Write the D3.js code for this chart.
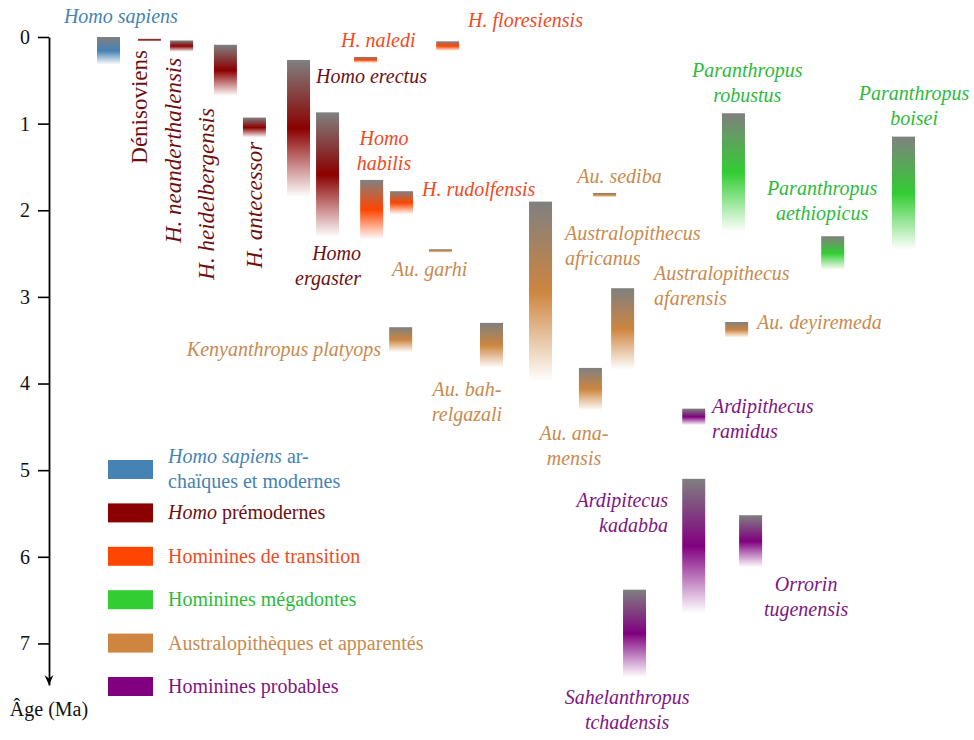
<!DOCTYPE html>
<html><head><meta charset="utf-8">
<script src="https://cdn.jsdelivr.net/npm/d3@7"></script>
<style>body{margin:0;background:#fff} svg{display:block}</style>
</head><body>
<svg id="c" width="974" height="740"></svg>
<script>
// ---- data ----
const groupNames  = ["sapiens","premodern","transition","megadont","australo","probable"];
const groupColors = ["#4682B4","#8B0000","#FF4500","#32CD32","#CD853F","#800080"];
const groupTextColors = ["#4682B4","#6E0F0F","#F04A1E","#2DBA3A","#C98A4E","#7E1582"];
const ageTicks = [0,1,2,3,4,5,6,7];

const species = ["Homo sapiens","Dénisoviens","H. neanderthalensis","H. heidelbergensis","H. antecessor",
  "Homo erectus","Homo ergaster","H. naledi","H. floresiensis","Homo habilis","H. rudolfensis",
  "Au. garhi","Au. sediba","Au. africanus","Kenyanthropus platyops","Au. bahrelgazali","Au. anamensis",
  "Au. afarensis","Au. deyiremeda","P. robustus","P. aethiopicus","P. boisei",
  "Ar. ramidus","Ar. kadabba","Orrorin tugenensis","Sahelanthropus tchadensis"];
const speciesGroup = [0,1,1,1,1, 1,1,2,2,2,2, 4,4,4,4,4,4, 4,4,3,3,3, 5,5,5,5];
const speciesLane  = [0,1.41,2.52,4.03,5.03, 6.55,7.55,8.86,11.69,9.07,10.1,
  11.44,17.1,14.89,10.07,13.2,16.61, 17.72,21.65,21.54,24.96,27.4, 20.17,20.17,22.13,18.13];
const ageYoung = [0,0.02,0.04,0.09,0.93, 0.265,0.87,0.23,0.05,1.65,1.78,
  2.45,1.80,1.90,3.35,3.30,3.82, 2.90,3.29,0.88,2.30,1.15, 4.29,5.10,5.52,6.38];
const ageOld   = [0.32,0.05,0.17,0.68,1.16, 1.85,2.31,0.30,0.16,2.34,2.05,
  2.49,1.85,3.98,3.64,3.82,4.31, 3.84,3.47,2.25,2.69,2.46, 4.48,6.65,6.12,7.39];

const legendLines = [
  [[["Homo sapiens",true],[" ar-",false]],[["chaïques et modernes",false]]],
  [[["Homo",true],[" prémodernes",false]]],
  [[["Hominines de transition",false]]],
  [[["Hominines mégadontes",false]]],
  [[["Australopithèques et apparentés",false]]],
  [[["Hominines probables",false]]]
];

// label annotations, positioned in data units (lane, age)
const labels = [
  {lines:["Homo sapiens"], g:0, a:"start", L:-1.14, A:-0.162},
  {lines:["Dénisoviens"], g:1, a:"end", L:1.72, A:0.15, rot:true, up:true},
  {lines:["H. neanderthalensis"], g:1, a:"end", L:2.9, A:0.24, rot:true},
  {lines:["H. heidelbergensis"], g:1, a:"end", L:4.03, A:0.82, rot:true},
  {lines:["H. antecessor"], g:1, a:"end", L:5.69, A:1.21, rot:true},
  {lines:["Homo erectus"], g:1, a:"start", L:7.55, A:0.53},
  {lines:["Homo","ergaster"], g:1, a:"end", L:9.1, A:2.575},
  {lines:["H. naledi"], g:2, a:"start", L:8.41, A:0.115},
  {lines:["H. floresiensis"], g:2, a:"start", L:12.79, A:-0.115},
  {lines:["Homo","habilis"], g:2, a:"middle", L:9.89, A:1.247},
  {lines:["H. rudolfensis"], g:2, a:"start", L:11.2, A:1.835},
  {lines:["Au. garhi"], g:4, a:"start", L:10.17, A:2.76},
  {lines:["Au. sediba"], g:4, a:"start", L:16.55, A:1.685},
  {lines:["Australopithecus","africanus"], g:4, a:"start", L:16.13, A:2.343},
  {lines:["Australopithecus","afarensis"], g:4, a:"start", L:19.2, A:2.805},
  {lines:["Au. deyiremeda"], g:4, a:"start", L:22.75, A:3.37},
  {lines:["Paranthropus","robustus"], g:3, a:"middle", L:22.41, A:0.462},
  {lines:["Paranthropus","boisei"], g:3, a:"middle", L:28.16, A:0.727},
  {lines:["Paranthropus","aethiopicus"], g:3, a:"middle", L:24.99, A:1.824},
  {lines:["Kenyanthropus platyops"], g:4, a:"end", L:9.79, A:3.68},
  {lines:["Au. bah-","relgazali"], g:4, a:"middle", L:12.75, A:4.144},
  {lines:["Au. ana-","mensis"], g:4, a:"middle", L:16.44, A:4.652},
  {lines:["Ardipithecus","ramidus"], g:5, a:"start", L:21.2, A:4.34},
  {lines:["Ardipitecus","kadabba"], g:5, a:"end", L:19.68, A:5.425},
  {lines:["Orrorin","tugenensis"], g:5, a:"middle", L:24.44, A:6.395},
  {lines:["Sahelanthropus","tchadensis"], g:5, a:"middle", L:18.27, A:7.7}
];

// ---- layout ----
const FONT = "'Liberation Serif', 'Times New Roman', serif";
const svg = d3.select("#c");
const y = d3.scaleLinear().domain([0, 7.48]).range([37, 685]);
const x = d3.scaleLinear().domain([0, 27.4]).range([97, 892]);
const barW = 23;

const defs = svg.append("defs");
groupNames.forEach((g,i)=>{
  const lg = defs.append("linearGradient").attr("id","grad-"+g)
    .attr("x1",0).attr("y1",0).attr("x2",0).attr("y2",1);
  lg.append("stop").attr("offset","0").attr("stop-color","#808080");
  lg.append("stop").attr("offset","0.5").attr("stop-color",groupColors[i]);
  lg.append("stop").attr("offset","1").attr("stop-color",groupColors[i]).attr("stop-opacity",0);
});

// bars
svg.append("g").selectAll("rect").data(species).join("rect")
  .attr("x",(d,i)=>x(speciesLane[i]))
  .attr("y",(d,i)=>y(ageYoung[i]))
  .attr("width",barW)
  .attr("height",(d,i)=>Math.max(2.5, y(ageOld[i])-y(ageYoung[i])))
  .attr("fill",(d,i)=>"url(#grad-"+groupNames[speciesGroup[i]]+")");

// axis
const axisX = 49;
const ax = svg.append("g").attr("transform",`translate(${axisX},0)`)
  .call(d3.axisLeft(y).tickValues(ageTicks).tickSize(11).tickPadding(8).tickSizeOuter(0).tickFormat(d3.format("d")));
ax.select(".domain").attr("stroke","#000").attr("stroke-width",1.8);
ax.selectAll(".tick line").attr("stroke","#000").attr("stroke-width",1.6);
ax.selectAll(".tick text").attr("font-family",FONT).attr("font-size",20).attr("fill","#111");
ax.append("path")
  .attr("d",`M0,${y.range()[1]} L-4.5,${y.range()[1]-10} L0,${y.range()[1]-6.5} L4.5,${y.range()[1]-10} Z`)
  .attr("fill","#000");
svg.append("text").attr("x",axisX).attr("y",716).attr("text-anchor","middle")
  .attr("font-family",FONT).attr("font-size",20).attr("fill","#111").text("Âge (Ma)");

// labels
const lineH = 25;
const lg = svg.append("g").attr("font-family",FONT);
labels.forEach(l=>{
  const px = x(l.L), py = y(l.A);
  const t = lg.append("text")
    .attr("text-anchor",l.a)
    .attr("font-size", l.rot ? 23 : 20)
    .attr("font-style", l.up ? "normal" : "italic")
    .attr("fill", groupTextColors[l.g])
    .attr("transform", l.rot ? `translate(${px},${py}) rotate(-90)` : `translate(${px},${py})`);
  l.lines.forEach((s,k)=>{
    t.append("tspan").attr("x",0).attr("y",k*lineH).text(s);
  });
});

// legend
const legX = 108, legY0 = 460, legStep = 43.4;
const leg = svg.append("g").attr("font-family",FONT);
legendLines.forEach((rows,i)=>{
  const top = legY0 + i*legStep;
  leg.append("rect").attr("x",legX).attr("y",top).attr("width",45).attr("height",19)
    .attr("fill",groupColors[i]);
  const t = leg.append("text").attr("font-size",20).attr("fill",groupTextColors[i]);
  rows.forEach((parts,k)=>{
    const base = rows.length>1 ? top + 3 + k*25 : top + 16;
    parts.forEach((p,j)=>{
      const ts = t.append("tspan").attr("font-style",p[1]?"italic":"normal").text(p[0]);
      if(j===0) ts.attr("x",168).attr("y",base);
    });
  });
});
</script>
</body></html>
